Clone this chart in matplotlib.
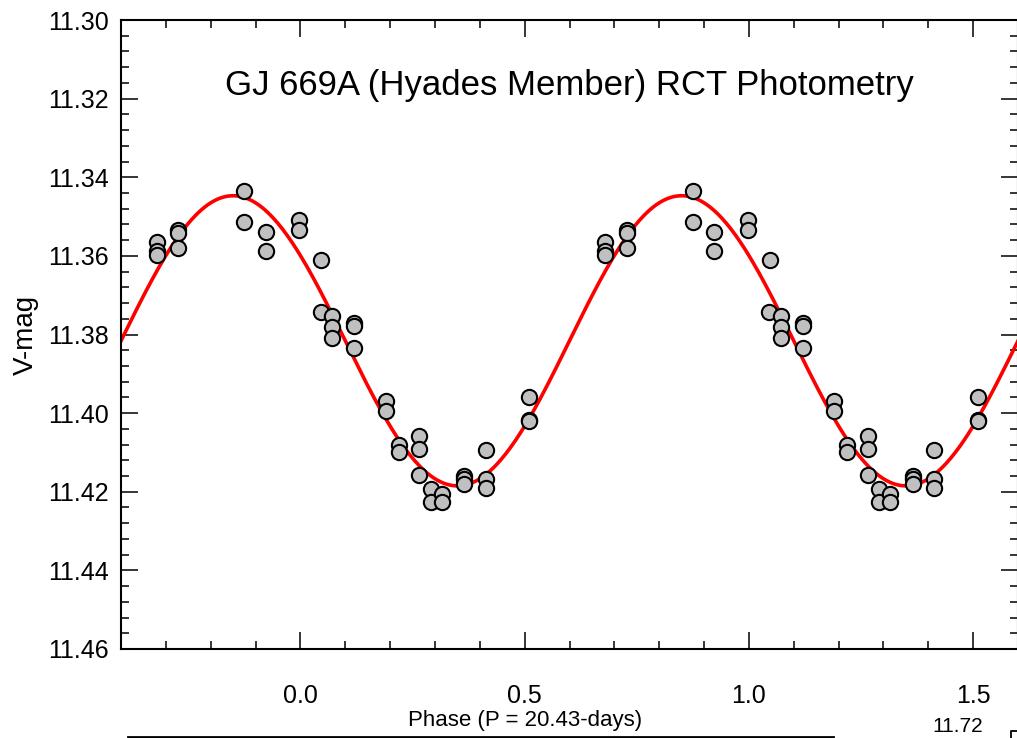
import matplotlib

matplotlib.use("Agg")
import matplotlib.pyplot as plt
import numpy as np
from matplotlib.lines import Line2D
from matplotlib.ticker import FormatStrFormatter, MultipleLocator

plt.rcParams["font.family"] = ["Liberation Sans", "DejaVu Sans"]

# phase / V magnitude (first cycle; drawn again at phase + 1)
phase = [
    -0.320, -0.320, -0.320, -0.272, -0.272, -0.272, -0.125, -0.125,
    -0.077, -0.077, -0.003, -0.003, 0.046, 0.045, 0.071, 0.071,
    0.071, 0.120, 0.120, 0.120, 0.190, 0.190, 0.219, 0.219,
    0.265, 0.265, 0.265, 0.291, 0.291, 0.315, 0.315, 0.365,
    0.365, 0.365, 0.413, 0.413, 0.413, 0.510, 0.510, 0.510,
]
vmag = [
    11.3565, 11.3588, 11.3599, 11.3533, 11.3543, 11.3580, 11.3434, 11.3513,
    11.3538, 11.3587, 11.3510, 11.3534, 11.3611, 11.3743, 11.3752, 11.3780,
    11.3809, 11.3770, 11.3779, 11.3835, 11.3969, 11.3994, 11.4080, 11.4098,
    11.4057, 11.4091, 11.4157, 11.4194, 11.4225, 11.4205, 11.4227, 11.4160,
    11.4168, 11.4180, 11.4094, 11.4167, 11.4190, 11.3959, 11.4018, 11.4021,
]

# sine fit shown in red
fit_mean = 11.3816
fit_amp = 0.0369
fit_phase_max = -0.15  # phase of brightest point

fig = plt.figure(figsize=(10.17, 7.38), dpi=100)
ax = fig.add_axes([121 / 1017, 1 - 649 / 738, 897 / 1017, 629 / 738])

grid = np.linspace(-0.4, 1.6, 600)
model = fit_mean - fit_amp * np.cos(2 * np.pi * (grid - fit_phase_max))
ax.plot(grid, model, color="#ff0000", lw=2.6, zorder=2)

ph = np.array(phase)
ax.plot(np.concatenate([ph, ph + 1]), vmag + vmag, "o", ms=11,
        mfc="#c0c0c0", mec="black", mew=1.5, zorder=3)

ax.set_xlim(-0.4, 1.6)
ax.set_ylim(11.46, 11.30)
ax.xaxis.set_major_locator(MultipleLocator(0.5))
ax.xaxis.set_minor_locator(MultipleLocator(0.1))
ax.yaxis.set_major_locator(MultipleLocator(0.02))
ax.yaxis.set_minor_locator(MultipleLocator(0.004))
ax.xaxis.set_major_formatter(FormatStrFormatter("%.1f"))
ax.yaxis.set_major_formatter(FormatStrFormatter("%.2f"))

ax.tick_params(which="both", direction="in", top=True, right=True, width=1.1)
ax.tick_params(which="major", length=12, labelsize=18)
ax.tick_params(which="minor", length=6)
ax.tick_params(axis="x", which="major", pad=25)
ax.tick_params(axis="y", which="major", pad=9)
for spine in ax.spines.values():
    spine.set_linewidth(1.5)

ax.set_ylabel("V-mag", fontsize=20)
ax.set_xlabel("Phase (P = 20.43-days)", fontsize=16)
ax.xaxis.set_label_coords((525 - 121) / 897, -(710 - 649) / 629)
ax.yaxis.set_label_coords(-(121 - 39) / 897, (649 - 335) / 629)

ax.text(0.5, 1 - (85 - 20) / 629, "GJ 669A (Hyades Member) RCT Photometry",
        transform=ax.transAxes, ha="center", va="center", fontsize=25)

# bits of the next panel that show at the bottom edge
fig.text(958 / 1017, 1 - 727 / 738, "11.72", ha="center", va="center", fontsize=15)
fig.add_artist(Line2D([128 / 1017, 833 / 1017], [1 - 737 / 738] * 2,
                      transform=fig.transFigure, color="black", lw=2))
fig.add_artist(Line2D([1017 / 1017, 1011 / 1017, 1011 / 1017],
                      [1 - 731 / 738, 1 - 731 / 738, 0],
                      transform=fig.transFigure, color="black", lw=1.3))

fig.savefig("out.png", dpi=100)
plt.close(fig)
